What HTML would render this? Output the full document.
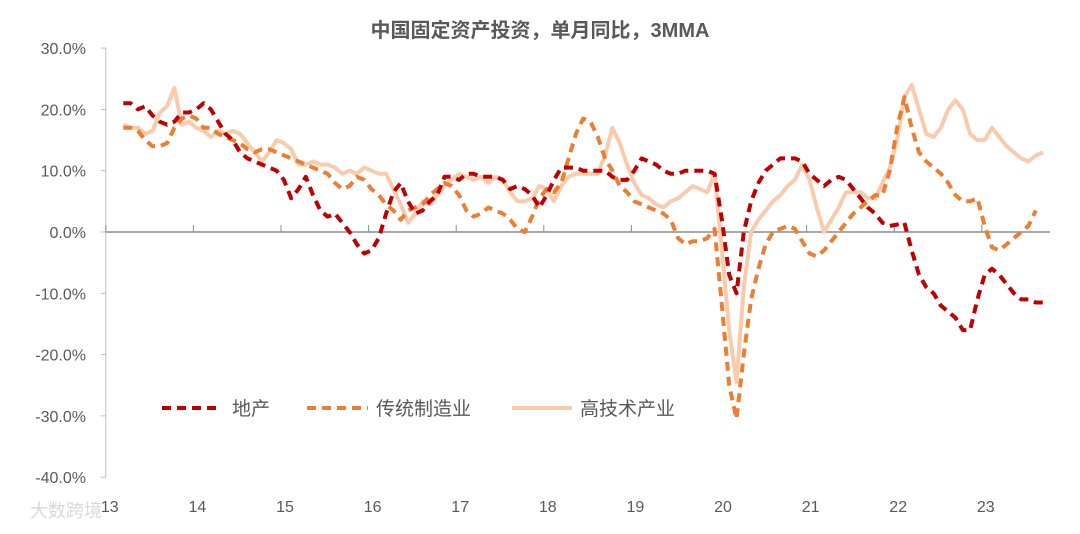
<!DOCTYPE html>
<html><head><meta charset="utf-8"><style>
body{margin:0;background:#fff;}
svg text{font-family:"Liberation Sans","Noto Sans CJK SC",sans-serif;}
</style></head><body>
<svg id="chart" width="1080" height="529" viewBox="0 0 1080 529" xmlns="http://www.w3.org/2000/svg">
<text x="540" y="37" text-anchor="middle" font-size="20" font-weight="bold" fill="#595959">中国固定资产投资，单月同比，3MMA</text>
<g id="yaxis"></g>
<g id="xaxis"></g>
<g id="series"></g>
<g>
<line x1="162" y1="408" x2="222" y2="408" stroke="#C00000" stroke-width="4" stroke-dasharray="9,6"/>
<text x="232" y="415" font-size="19" fill="#595959">地产</text>
<line x1="307" y1="408" x2="368" y2="408" stroke="#ED7D31" stroke-width="4" stroke-dasharray="9,6"/>
<text x="376" y="415" font-size="19" fill="#595959">传统制造业</text>
<line x1="512" y1="408" x2="572" y2="408" stroke="#F8CBAD" stroke-width="4"/>
<text x="580" y="415" font-size="19" fill="#595959">高技术产业</text>
</g>
<text x="30" y="517" font-size="18" fill="#d8d8d8">大数跨境</text>
</svg>
<script>
const yTicks=[30,20,10,0,-10,-20,-30,-40];
const xYears=["13","14","15","16","17","18","19","20","21","22","23"];
const startMonth=2.4;
const property=[21,21,20,20.5,19,18,17.5,18,19.5,19.5,20,21,20,18,16,15,13,12,11.5,11,10.5,10,8.5,5.5,7,9,6,3.5,2.5,3,1.5,0,-2,-3.5,-3,-1,3,6.5,8,5,3,3.5,5,6,9,9,8.5,9.5,9.5,9,9,9,8.5,7,7.5,7,6,4,6,8.5,10.5,10.5,10.5,10,10,10,10,9,8.5,8.5,10,12,11.5,11,10,9.5,9.5,10,10,10,10,9.5,2,-7,-10,0,5,8,10,11,12,12,12,11.5,9.5,8.5,7.5,8.5,9,8.5,7,5.5,4,3,1.5,1,1.2,1.5,-3,-7,-9,-10,-12,-13,-14,-16,-16,-11,-7,-6,-7,-8.5,-10,-11,-11,-11.5,-11.5];
const manufacturing=[17,17,16.5,15,14,14,14.5,17,18.5,19,18.5,17,17,16,15.5,15,14.5,13.5,13,13.5,13.5,13,12.5,12,11.5,11,10.5,10,9.5,8,7,7.5,9,8.5,7,6,4.5,3.5,2,3.5,4,4.5,6,7,8,7.5,6,3.5,2.5,3,4,3.5,3,2,0.5,0,2.5,5.5,7,6.5,8,12,16,18.5,18,15.5,12,10,7.5,6.5,5,4.5,4,3.5,3,2,-1,-2,-1.5,-1.5,-1,0.5,-12,-25,-30.5,-20,-11,-6,-2,0,0.5,1,0.5,-1.5,-3.5,-4,-3,-1.5,0,1.5,3,4,5,6,6,10,17,22,17,13,11.5,10.5,9.5,8,6,5,5,5.5,1,-2.5,-3,-2,-1,0,1,3.5];
const hightech=[17.5,17,17,16,16.5,19.5,20.5,23.5,17.5,18,17,16.5,15.5,16.5,16,16.5,16,14.5,13,11.5,13,15,14.5,13.5,11,11,11.5,11,11,10.5,9.5,10,9.5,10.5,10,9.5,9.5,7,4.5,1.5,3,5,4.5,6,7.5,8.5,9.5,9,8.5,9,8,9,8.5,6.5,5,5,5.5,7.5,7,5,7.5,9,9.5,9.5,9.5,9.5,12.5,17,14.5,11,8,6,5.5,4.5,4,5,5.5,6.5,7.5,7,6.5,9.5,-3,-16,-24.5,-9,0,2,3.5,5,6,7.5,8.5,11,8.5,4,0,2,4,6.5,6.5,6.5,5.5,5.5,8,10.5,15,22,24,20,16,15.5,17,20,21.5,20,16,15,15,17,15.5,14,13,12,11.5,12.5,13];
const NS="http://www.w3.org/2000/svg";
const x0=105.8, monthW=7.3, y0=232, unitPx=6.13;
function xScale(m){return x0+m*monthW;}
function yScale(v){return y0-v*unitPx;}
const yax=document.getElementById('yaxis');
yTicks.forEach(v=>{
 const t=document.createElementNS(NS,'text');
 
 
 t.setAttribute('x',86);t.setAttribute('y',yScale(v)+6);
 t.setAttribute('text-anchor','end');t.setAttribute('font-size','16');t.setAttribute('fill','#595959');
 t.textContent=v.toFixed(1)+'%';yax.appendChild(t);
});
const yl=document.createElementNS(NS,'line');


yl.setAttribute('x1',x0);yl.setAttribute('x2',x0);yl.setAttribute('y1',yScale(30));yl.setAttribute('y2',yScale(-40));
yl.setAttribute('stroke','#bfbfbf');yl.setAttribute('stroke-width','1');yax.appendChild(yl);
yTicks.forEach(v=>{
 const l=document.createElementNS(NS,'line');
 
 
 l.setAttribute('x1',x0-5);l.setAttribute('x2',x0);l.setAttribute('y1',yScale(v));l.setAttribute('y2',yScale(v));
 l.setAttribute('stroke','#bfbfbf');yax.appendChild(l);
});
const xax=document.getElementById('xaxis');
const zl=document.createElementNS(NS,'line');


zl.setAttribute('x1',x0);zl.setAttribute('x2',1050);zl.setAttribute('y1',yScale(0));zl.setAttribute('y2',yScale(0));
zl.setAttribute('stroke','#8c8c8c');zl.setAttribute('stroke-width','1.5');xax.appendChild(zl);
xYears.forEach((lab,i)=>{
 const xx=xScale(i*12);
 const tk=document.createElementNS(NS,'line');
 
 
 tk.setAttribute('x1',xx);tk.setAttribute('x2',xx);tk.setAttribute('y1',yScale(0)-7);tk.setAttribute('y2',yScale(0));
 tk.setAttribute('stroke','#8c8c8c');xax.appendChild(tk);
 const t=document.createElementNS(NS,'text');
 
 
 t.setAttribute('x',xx+4);t.setAttribute('y',512);t.setAttribute('text-anchor','middle');
 t.setAttribute('font-size','16');t.setAttribute('fill','#595959');t.textContent=lab;xax.appendChild(t);
});
const sg=document.getElementById('series');
function draw(arr,name,color,dash){
 const p=document.createElementNS(NS,'polyline');
 
 
 p.setAttribute('points',arr.map((v,i)=>xScale(startMonth+i).toFixed(1)+','+yScale(v).toFixed(1)).join(' '));
 p.setAttribute('fill','none');p.setAttribute('stroke',color);p.setAttribute('stroke-width','4');
 p.setAttribute('stroke-linejoin','round');
 if(dash)p.setAttribute('stroke-dasharray',dash);
 sg.appendChild(p);
}
draw(hightech,'hightech-line','#F8CBAD',null);
draw(manufacturing,'manufacturing-line','#ED7D31','9,6');
draw(property,'property-line','#C00000','9,6');
</script>
</body></html>
